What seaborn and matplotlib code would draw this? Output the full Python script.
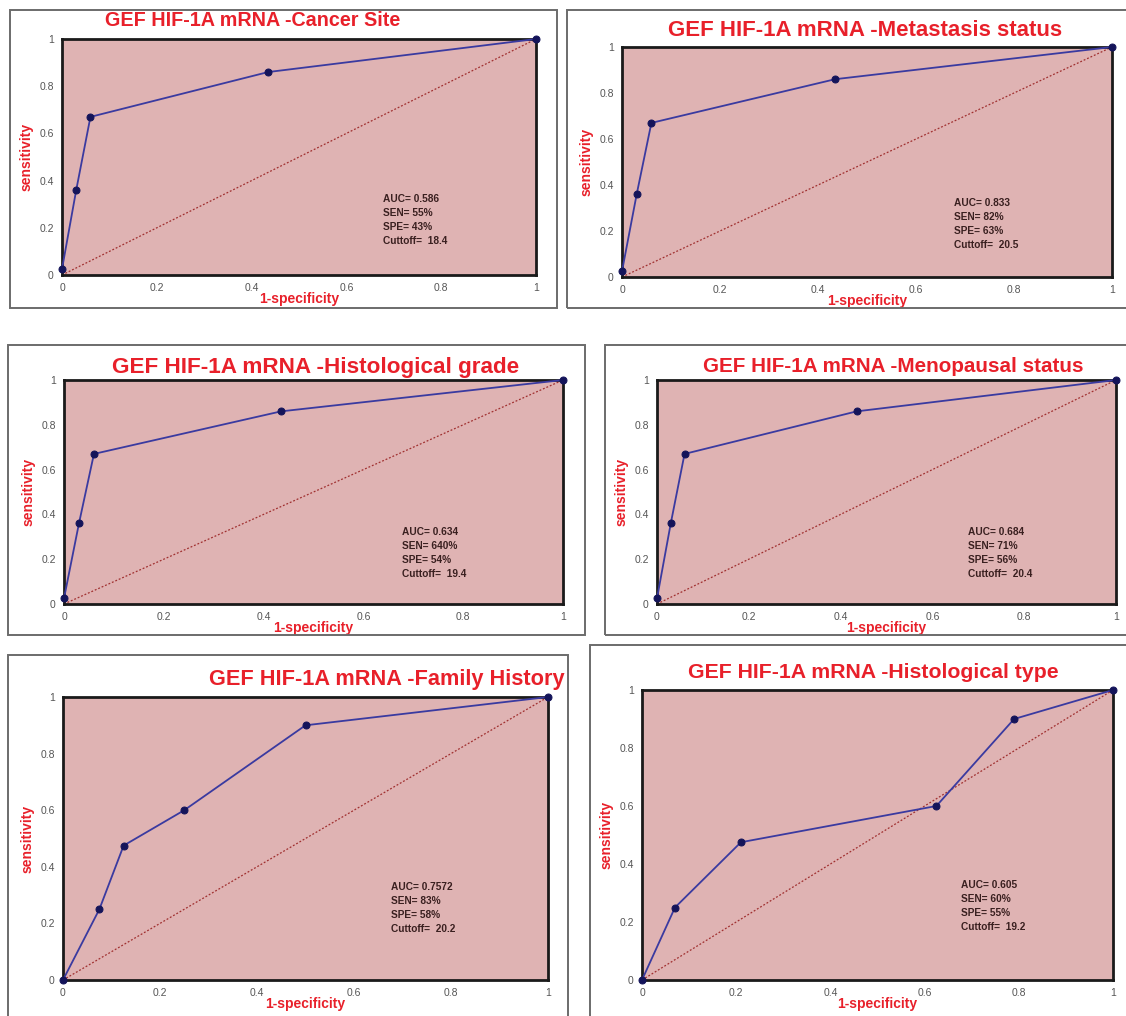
import numpy as np
import pandas as pd
import seaborn as sns
import matplotlib.pyplot as plt
from matplotlib.patches import Rectangle

# ROC points
fpr_a = [0, 0, 0.03, 0.06, 0.435, 1]
tpr_a = [0, 0.05, 0.36, 0.67, 0.86, 1]
fpr_family = [0, 0.075, 0.125, 0.25, 0.5, 1]
tpr_family = [0, 0.25, 0.475, 0.6, 0.9, 1]
fpr_type = [0, 0.07, 0.21, 0.625, 0.79, 1]
tpr_type = [0, 0.25, 0.475, 0.6, 0.9, 1]

titles = ["GEF HIF-1A mRNA -Cancer Site",
          "GEF HIF-1A mRNA -Metastasis status",
          "GEF HIF-1A mRNA -Histological grade",
          "GEF HIF-1A mRNA -Menopausal status",
          "GEF HIF-1A mRNA -Family History",
          "GEF HIF-1A mRNA -Histological type"]
auc = ["0.586", "0.833", "0.634", "0.684", "0.7572", "0.605"]
sen = ["55%", "82%", "640%", "71%", "83%", "60%"]
spe = ["43%", "63%", "54%", "56%", "58%", "55%"]
cutoff = ["18.4", "20.5", "19.4", "20.4", "20.2", "19.2"]
curves = [(fpr_a, tpr_a)] * 4 + [(fpr_family, tpr_family), (fpr_type, tpr_type)]

W, H = 1126, 1016
# panel layout in pixels: outer box (x0, y0, x1, y1), axes (x0, x1, ytop, ybot), title centre (x, y)
boxes = [(10, 10, 557, 308), (567, 10, 1130, 308),
         (8, 345, 585, 635), (605, 345, 1130, 635),
         (8, 655, 568, 1030), (590, 645, 1130, 1030)]
axpix = [(62, 536, 39, 275), (622, 1112, 47, 277),
         (64, 563, 380, 604), (657, 1116, 380, 604),
         (63, 548, 697, 980), (642, 1113, 690, 980)]
tpos = [(253, 20), (865, 31), (316, 367), (893, 367), (387, 679), (873, 672)]
tsize = [14.2, 16, 16.2, 14.9, 15.7, 15.3]

sns.set_style("white")
plt.rcParams['font.family'] = ['Liberation Sans', 'DejaVu Sans']

fig = plt.figure(figsize=(W / 100, H / 100), dpi=100)

for i in range(6):
    bx0, by0, bx1, by1 = boxes[i]
    fig.patches.append(Rectangle((bx0 / W, 1 - by1 / H), (bx1 - bx0) / W, (by1 - by0) / H,
                                 transform=fig.transFigure, fill=False,
                                 edgecolor='#6b6b6b', linewidth=1.4))
    x0, x1, yt, yb = axpix[i]
    ax = fig.add_axes([x0 / W, 1 - yb / H, (x1 - x0) / W, (yb - yt) / H])
    ax.set_facecolor('#dfb3b3')
    ax.plot([0, 1], [0, 1], color='#a03030', linestyle=(0, (1.5, 1.5)), linewidth=0.9)
    df = pd.DataFrame({"fpr": curves[i][0], "tpr": curves[i][1]})
    sns.lineplot(data=df, x="fpr", y="tpr", sort=False, ax=ax, color='#3a3aa0',
                 linewidth=1.3, marker='o', markersize=5, markeredgecolor='#14145a',
                 markerfacecolor='#14145a', clip_on=False, zorder=5)
    ax.set_xlim(0, 1)
    ax.set_ylim(0, 1)
    ticks = [0, 0.2, 0.4, 0.6, 0.8, 1]
    labs = ["0", "0.2", "0.4", "0.6", "0.8", "1"]
    ax.set_xticks(ticks)
    ax.set_xticklabels(labs)
    ax.set_yticks(ticks)
    ax.set_yticklabels(labs)
    ax.tick_params(axis='both', labelsize=7.5, colors='#555555', length=3, width=0.8,
                   direction='out', pad=3)
    for s in ax.spines.values():
        s.set_color('#1a1a1a')
        s.set_linewidth(2)
    ax.set_xlabel("1-specificity", color='#e8202a', fontsize=10, fontweight='bold', labelpad=-1)
    ax.set_ylabel("sensitivity", color='#e8202a', fontsize=10, fontweight='bold', labelpad=4)
    txt = "AUC= %s\nSEN= %s\nSPE= %s\nCuttoff=  %s" % (auc[i], sen[i], spe[i], cutoff[i])
    ax.text(0.677, 0.345, txt, transform=ax.transAxes, fontsize=7.3, fontweight='bold',
            color='#3a2020', va='top', ha='left', linespacing=1.5)
    tx, ty = tpos[i]
    fig.text(tx / W, 1 - ty / H, titles[i], color='#e8202a', fontsize=tsize[i],
             fontweight='bold', ha='center', va='center')

fig.savefig("out.png", dpi=100)
